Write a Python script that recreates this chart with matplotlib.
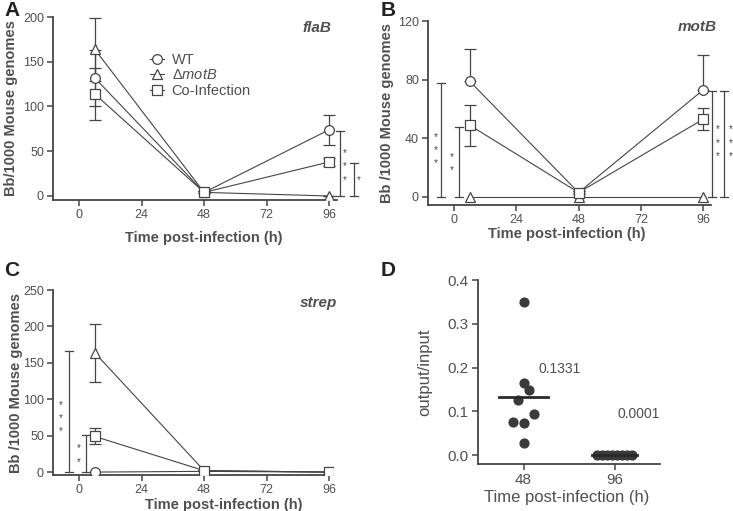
import matplotlib
matplotlib.use("Agg")
import matplotlib.pyplot as plt
from matplotlib.lines import Line2D

plt.rcParams['font.family'] = ['Liberation Sans', 'DejaVu Sans']
plt.rcParams['mathtext.fontset'] = 'custom'
plt.rcParams['mathtext.it'] = 'Liberation Sans:italic'
plt.rcParams['mathtext.rm'] = 'Liberation Sans'

GREY = '#454545'
TXT = '#505050'

hours = [6, 48, 96]
xticks = [0, 24, 48, 72, 96]

# panel A - flaB
a_wt = [132, 4, 74]
a_wt_err = [31, 1, 17]
a_mot = [164, 4, 0]
a_mot_err = [35, 1, 0]
a_co = [114, 4, 38]
a_co_err = [29, 1, 4]

# panel B - motB
b_wt = [79, 3, 73]
b_wt_err = [22, 1, 24]
b_mot = [0, 0, 0]
b_co = [49, 3, 53]
b_co_err = [14, 1, 7.5]

# panel C - strep
c_wt = [0, 1, 0]
c_mot = [164, 2, 0]
c_mot_err = [40, 1, 0]
c_co = [49, 2, 0]
c_co_err = [11, 1, 0]

# panel D - competitive index
d_cats = ['48', '96']
d48 = [0.35, 0.165, 0.148, 0.127, 0.093, 0.076, 0.074, 0.027]
d96 = [0.0001] * 8
d_means = [0.1331, 0.0001]
d_labels = ['0.1331', '0.0001']

W, H = 733, 511
fig = plt.figure(figsize=(W / 100, H / 100), dpi=100)


def rect(l, t, r, b):
    return [l / W, 1 - b / H, (r - l) / W, (b - t) / H]


def style(ax):
    for s in ['top', 'right']:
        ax.spines[s].set_visible(False)
    for s in ['left', 'bottom']:
        ax.spines[s].set_color(GREY)
        ax.spines[s].set_linewidth(1.3)
    ax.tick_params(colors=GREY, labelcolor=TXT, labelsize=9, length=4,
                   width=1.1, pad=2.5)


def series(ax, y, err, marker, upper_only=False):
    if err is None:
        ax.plot(hours, y, color=GREY, lw=0.8, marker=marker, ms=7,
                mfc='white', mec=GREY, mew=0.9, zorder=3)
        return
    lo = [0] * len(err) if upper_only else err
    ax.errorbar(hours, y, yerr=[lo, err], color=GREY, lw=0.8, marker=marker,
                ms=7, mfc='white', mec=GREY, mew=0.9, capsize=4,
                elinewidth=0.9, capthick=0.9, zorder=3)


def bracket(ax, x, top, star_x, star_ys):
    ax.plot([x, x], [0, top], color=GREY, lw=0.9, clip_on=False)
    ax.plot([x - 1.5, x + 1.5], [top, top], color=GREY, lw=0.9, clip_on=False)
    ax.plot([x - 1.5, x + 1.5], [0, 0], color=GREY, lw=0.9, clip_on=False)
    for sy in star_ys:
        ax.text(star_x, sy, '*', color=GREY, fontsize=7, ha='center',
                va='center', clip_on=False)


def labels(ax, xlab, ylab, size, weight, lx, ly, ylx):
    ax.set_xlabel(xlab, fontsize=size, fontweight=weight, color=TXT)
    ax.set_ylabel(ylab, fontsize=size, fontweight=weight, color=TXT)
    ax.xaxis.label.set_va('center')
    ax.xaxis.set_label_coords(lx, ly)
    ax.yaxis.set_label_coords(ylx, 0.5)


def time_axes(ax, ylim, yticks, title, tx, ty):
    style(ax)
    ax.set_xlim(-10, 99)
    ax.set_ylim(*ylim)
    ax.set_xticks(xticks)
    ax.set_yticks(yticks)
    ax.text(tx, ty, title, transform=ax.transAxes, fontsize=11,
            fontstyle='italic', fontweight='bold', color=TXT, ha='center',
            va='center')


# A
axA = fig.add_axes(rect(53, 17, 337, 200))
time_axes(axA, (-4.5, 200), [0, 50, 100, 150, 200], 'flaB', 0.93, 0.94)
labels(axA, 'Time post-infection (h)', 'Bb/1000 Mouse genomes', 10.5, 'bold',
       0.53, -0.205, -0.123)
series(axA, a_wt, a_wt_err, 'o')
series(axA, a_mot, a_mot_err, '^')
series(axA, a_co, a_co_err, 's')
bracket(axA, 100, 73, 101.8, [48, 33, 18])
bracket(axA, 105.6, 37, 107.2, [18])
handles = [Line2D([], [], color=GREY, lw=0.8, marker=m, ms=7, mfc='white',
                  mec=GREY, mew=0.9) for m in ['o', '^', 's']]
leg = axA.legend(handles, ['WT', r'$\Delta$$\it{motB}$', 'Co-Infection'],
                 loc='upper left', bbox_to_anchor=(0.315, 0.845), frameon=False,
                 fontsize=10.5, handlelength=1.0, handletextpad=0.5,
                 labelspacing=0.12, borderpad=0)
for t in leg.get_texts():
    t.set_color(TXT)

# B
axB = fig.add_axes(rect(428, 21, 711, 205))
time_axes(axB, (-5.5, 120), [0, 40, 80, 120], 'motB', 0.95, 0.97)
labels(axB, 'Time post-infection (h)', 'Bb /1000 Mouse genomes', 10.5, 'bold',
       0.49, -0.158, -0.12)
series(axB, b_wt, b_wt_err, 'o', upper_only=True)
series(axB, b_mot, None, '^')
series(axB, b_co, b_co_err, 's')
bracket(axB, -5, 78, -7, [41, 32, 23])
bracket(axB, 2, 48, -0.8, [27, 18])
bracket(axB, 99.5, 72, 101.7, [46, 37, 28])
bracket(axB, 104, 72, 106.8, [46, 37, 28])

# C
axC = fig.add_axes(rect(53, 290, 333, 475))
time_axes(axC, (-4, 250), [0, 50, 100, 150, 200, 250], 'strep', 0.95, 0.93)
axC.set_xlim(-10, 97.5)
labels(axC, 'Time post-infection (h)', 'Bb /1000 Mouse genomes', 10.5, 'bold',
       0.61, -0.16, -0.107)
series(axC, c_wt, None, 'o')
series(axC, c_mot, c_mot_err, '^')
series(axC, c_co, c_co_err, 's')
bracket(axC, -3.8, 166, -7, [92, 74, 56])
bracket(axC, 2.7, 51, 0, [33, 14])

# D
axD = fig.add_axes(rect(478, 280, 660, 464))
style(axD)
axD.tick_params(labelsize=11)
d48_dx = [0, 0, 0.062, -0.058, 0.12, -0.12, 0.002, 0]
d96_dx = [-0.19, -0.135, -0.08, -0.027, 0.027, 0.08, 0.135, 0.19]
axD.scatter([0 + dx for dx in d48_dx], d48, s=40, color='#3a3a3a', zorder=3)
axD.scatter([1 + dx for dx in d96_dx], d96, s=40, color='#3a3a3a', zorder=3)
for i, m in enumerate(d_means):
    hw = 0.27 if i == 0 else 0.25
    axD.plot([i - hw, i + hw], [m, m], color='#2a2a2a', lw=2, zorder=4)
axD.text(0.16, 0.197, d_labels[0], fontsize=10, color=TXT, va='center')
axD.text(1.03, 0.094, d_labels[1], fontsize=10, color=TXT, va='center')
axD.set_xlim(-0.5, 1.5)
axD.set_ylim(-0.02, 0.4)
axD.set_xticks([0, 1])
axD.set_xticklabels(d_cats)
axD.set_yticks([0.0, 0.1, 0.2, 0.3, 0.4])
labels(axD, 'Time post-infection (h)', 'output/input', 12, 'normal',
       0.49, -0.18, -0.253)

for lab, x, y in [('A', 12, 10), ('B', 388, 10), ('C', 12, 270), ('D', 388, 270)]:
    fig.text(x / W, 1 - y / H, lab, fontsize=15, fontweight='bold',
             color='#222222', ha='center', va='center')

fig.savefig('out.png', dpi=100)
